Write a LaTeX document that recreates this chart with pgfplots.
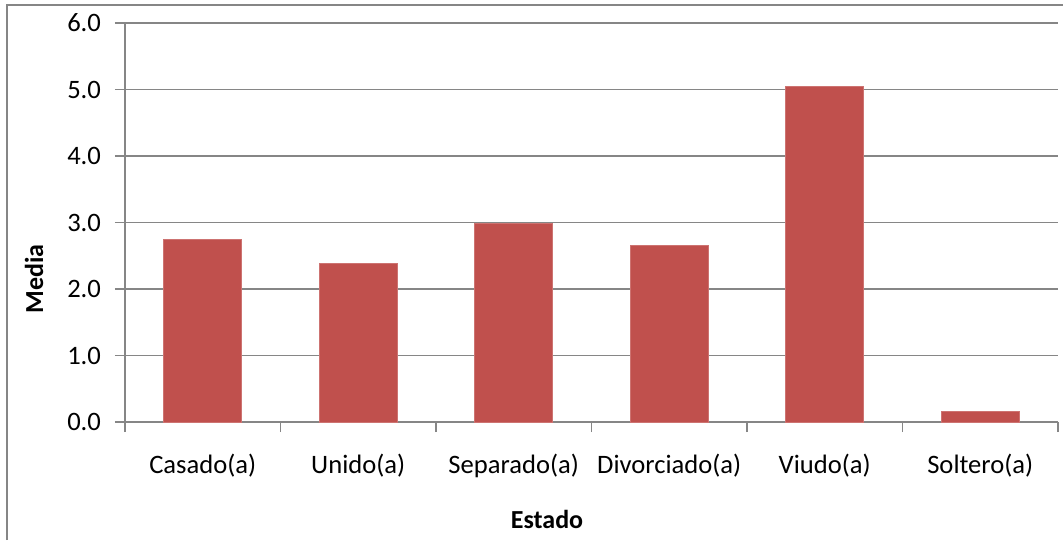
\documentclass[border=0pt]{standalone}
\usepackage{fontspec}
\setmainfont{Carlito}
\usepackage{pgfplots}
\pgfplotsset{compat=1.18}
\definecolor{barred}{HTML}{C0504D}
\definecolor{gridgray}{HTML}{868686}
\begin{document}
\begin{tikzpicture}
\begin{axis}[name=ax,
  scale only axis, width=466.5pt, height=199.5pt,
  xmin=0.5, xmax=6.5, ymin=0, ymax=6,
  ytick={0,1,...,6},
  xtick={1,...,6},
  xticklabels={Casado(a),Unido(a),Separado(a),Divorciado(a),Viudo(a),Soltero(a)},
  minor xtick={0.5,1.5,...,6.5},
  major x tick style={opacity=0},
  axis x line*=bottom, axis y line*=left,
  axis line style={gridgray, line width=0.9pt},
  tick style={gridgray, line width=0.9pt},
  tick align=outside, major tick length=5pt, minor tick length=5pt,
  ymajorgrids, grid style={gridgray, line width=0.9pt},
  /pgf/number format/assume math mode=true,
  yticklabel={\pgfmathprintnumber[fixed,fixed zerofill,precision=1]{\tick}},
  ticklabel style={font=\fontsize{13.3}{15}\selectfont, text=black},
  yticklabel style={xshift=-3.5pt},
  xticklabel style={yshift=-7.5pt},
  ybar, bar width=0.5,
]
\addplot[fill=barred, draw=barred!80!white] coordinates {
  (1,2.74) (2,2.39) (3,2.98) (4,2.66) (5,5.04) (6,0.165)};
\end{axis}
\pgfresetboundingbox
\begin{scope}[shift={(ax.south west)}, x=1pt, y=1pt]
\useasboundingbox (-62.5,-59) rectangle (469,211);
\draw[gridgray, line width=1pt] (-59,-59) -- (-59,208.5) -- (469,208.5);
\node[rotate=90, font=\fontsize{13}{15}\selectfont\bfseries] at (-45.5,71.5) {Media};
\node[font=\fontsize{13}{15}\selectfont\bfseries] at (211,-48.5) {Estado};
\end{scope}
\end{tikzpicture}
\end{document}
